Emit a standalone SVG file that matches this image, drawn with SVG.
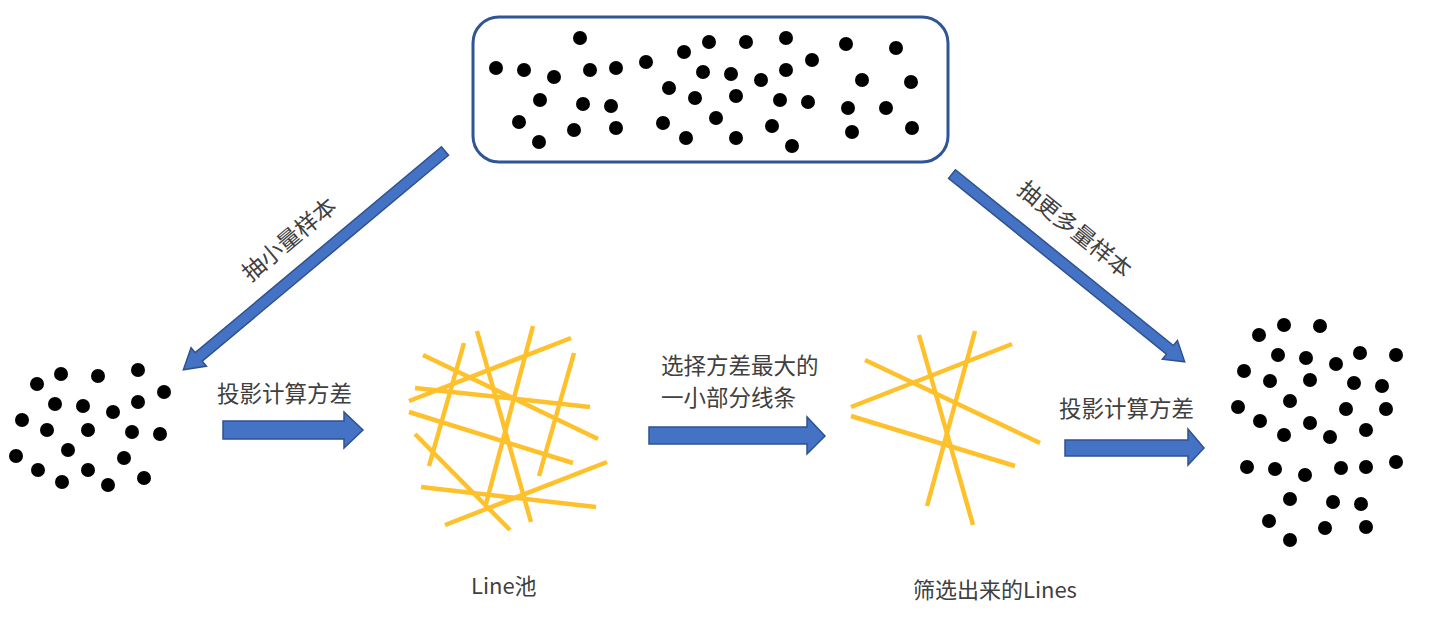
<svg xmlns="http://www.w3.org/2000/svg" width="1434" height="620" viewBox="0 0 1434 620">
<style>
.d{fill:#000}
.ln{stroke:#FFC12B;stroke-width:4.5;stroke-linecap:butt;fill:none}
.ar{fill:#4472C4;stroke:#2F528F;stroke-width:1.5}
.t{font-family:"Noto Sans CJK SC","Noto Sans",sans-serif;font-size:22px;fill:#404040}
</style>
<rect width="1434" height="620" fill="#fff"/>
<g id="population">
<rect x="473" y="17" width="475" height="145" rx="26" ry="26" fill="#fff" stroke="#2F5597" stroke-width="3"/>
<g class="d">
<circle cx="580" cy="38" r="7"/><circle cx="496" cy="68" r="7"/><circle cx="524" cy="70" r="7"/><circle cx="554" cy="77" r="7"/><circle cx="590" cy="70" r="7"/><circle cx="616" cy="68" r="7"/><circle cx="646" cy="62" r="7"/><circle cx="684" cy="52" r="7"/><circle cx="709" cy="42" r="7"/><circle cx="746" cy="42" r="7"/><circle cx="786" cy="38" r="7"/><circle cx="846" cy="44" r="7"/><circle cx="896" cy="48" r="7"/><circle cx="812" cy="60" r="7"/><circle cx="786" cy="70" r="7"/><circle cx="761" cy="80" r="7"/><circle cx="731" cy="74" r="7"/><circle cx="703" cy="72" r="7"/><circle cx="862" cy="80" r="7"/><circle cx="911" cy="82" r="7"/><circle cx="669" cy="88" r="7"/><circle cx="695" cy="98" r="7"/><circle cx="736" cy="96" r="7"/><circle cx="780" cy="100" r="7"/><circle cx="808" cy="102" r="7"/><circle cx="848" cy="108" r="7"/><circle cx="886" cy="108" r="7"/><circle cx="540" cy="100" r="7"/><circle cx="583" cy="104" r="7"/><circle cx="611" cy="106" r="7"/><circle cx="519" cy="122" r="7"/><circle cx="574" cy="130" r="7"/><circle cx="616" cy="128" r="7"/><circle cx="663" cy="123" r="7"/><circle cx="716" cy="118" r="7"/><circle cx="772" cy="126" r="7"/><circle cx="539" cy="142" r="7"/><circle cx="686" cy="138" r="7"/><circle cx="736" cy="138" r="7"/><circle cx="792" cy="146" r="7"/><circle cx="852" cy="132" r="7"/><circle cx="912" cy="128" r="7"/>
</g>
</g>
<g id="small-sample" class="d">
<circle cx="37" cy="384" r="7"/><circle cx="61" cy="374" r="7"/><circle cx="98" cy="376" r="7"/><circle cx="138" cy="370" r="7"/><circle cx="164" cy="392" r="7"/><circle cx="55" cy="404" r="7"/><circle cx="83" cy="406" r="7"/><circle cx="113" cy="412" r="7"/><circle cx="138" cy="402" r="7"/><circle cx="22" cy="420" r="7"/><circle cx="47" cy="430" r="7"/><circle cx="88" cy="430" r="7"/><circle cx="132" cy="432" r="7"/><circle cx="160" cy="434" r="7"/><circle cx="68" cy="450" r="7"/><circle cx="16" cy="456" r="7"/><circle cx="124" cy="458" r="7"/><circle cx="38" cy="470" r="7"/><circle cx="88" cy="470" r="7"/><circle cx="62" cy="482" r="7"/><circle cx="108" cy="485" r="7"/><circle cx="144" cy="478" r="7"/>
</g>
<g id="line-pool" class="ln">
<line x1="464" y1="343" x2="429" y2="466"/><line x1="477" y1="331" x2="531" y2="522"/><line x1="533" y1="326" x2="486" y2="504"/><line x1="571" y1="338" x2="409" y2="401"/><line x1="423" y1="355" x2="598" y2="439"/><line x1="574" y1="353" x2="539" y2="476"/><line x1="415" y1="388" x2="590" y2="407"/><line x1="409" y1="412" x2="573" y2="463"/><line x1="415" y1="434" x2="510" y2="530"/><line x1="421" y1="487" x2="596" y2="507"/><line x1="607" y1="462" x2="445" y2="525"/>
</g>
<g id="selected-lines" class="ln">
<line x1="919" y1="335" x2="973" y2="525"/><line x1="975" y1="331" x2="927" y2="506"/><line x1="1012" y1="344" x2="851" y2="407"/><line x1="865" y1="360" x2="1040" y2="443"/><line x1="851" y1="416" x2="1015" y2="466"/>
</g>
<g id="large-sample" class="d">
<circle cx="1259" cy="335" r="7"/><circle cx="1284" cy="325" r="7"/><circle cx="1320" cy="326" r="7"/><circle cx="1278" cy="355" r="7"/><circle cx="1306" cy="358" r="7"/><circle cx="1336" cy="364" r="7"/><circle cx="1360" cy="353" r="7"/><circle cx="1396" cy="355" r="7"/><circle cx="1244" cy="371" r="7"/><circle cx="1270" cy="381" r="7"/><circle cx="1310" cy="380" r="7"/><circle cx="1354" cy="383" r="7"/><circle cx="1382" cy="386" r="7"/><circle cx="1290" cy="401" r="7"/><circle cx="1238" cy="407" r="7"/><circle cx="1346" cy="409" r="7"/><circle cx="1386" cy="409" r="7"/><circle cx="1260" cy="421" r="7"/><circle cx="1310" cy="423" r="7"/><circle cx="1284" cy="435" r="7"/><circle cx="1330" cy="437" r="7"/><circle cx="1366" cy="430" r="7"/><circle cx="1247" cy="467" r="7"/><circle cx="1275" cy="469" r="7"/><circle cx="1305" cy="475" r="7"/><circle cx="1341" cy="468" r="7"/><circle cx="1366" cy="467" r="7"/><circle cx="1396" cy="462" r="7"/><circle cx="1290" cy="499" r="7"/><circle cx="1333" cy="502" r="7"/><circle cx="1361" cy="504" r="7"/><circle cx="1269" cy="521" r="7"/><circle cx="1325" cy="528" r="7"/><circle cx="1366" cy="527" r="7"/><circle cx="1290" cy="540" r="7"/>
</g>
<g id="connectors">
<polygon class="ar" transform="translate(445,151) rotate(140.1)" points="0,-5.5 321,-5.5 321,-12 341,0 321,12 321,5.5 0,5.5"/>
<polygon class="ar" transform="translate(952,174) rotate(38.9)" points="0,-5.5 280,-5.5 280,-12 299,0 280,12 280,5.5 0,5.5"/>
<polygon class="ar" points="223,421 344,421 344,412 363,430 344,448 344,439 223,439"/>
<polygon class="ar" points="649,427 807,427 807,417 825,436 807,454 807,444 649,444"/>
<polygon class="ar" points="1065,440 1188,440 1188,429 1204,448 1188,465 1188,456 1065,456"/>
</g>
<g id="labels">
<text class="t" transform="translate(288,238) rotate(-40)" text-anchor="middle" dominant-baseline="central" style="font-size:23px">抽小量样本</text>
<text class="t" transform="translate(1076,228) rotate(39)" text-anchor="middle" dominant-baseline="central" style="font-size:23px">抽更多量样本</text>
<text class="t" x="217" y="402" style="font-size:22.5px">投影计算方差</text>
<text class="t" x="661" y="374" style="font-size:22.5px">选择方差最大的</text>
<text class="t" x="661" y="406" style="font-size:22.5px">一小部分线条</text>
<text class="t" x="1059" y="417" style="font-size:22.5px">投影计算方差</text>
<text class="t" x="471" y="594">Line池</text>
<text class="t" x="913" y="598">筛选出来的Lines</text>
</g>
</svg>
